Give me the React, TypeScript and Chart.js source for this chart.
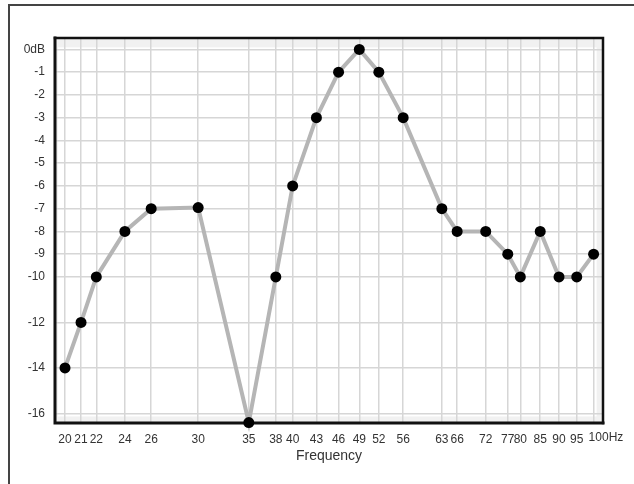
import React, { useEffect, useRef } from "react";
import { Chart, registerables } from "chart.js";

Chart.register(...registerables);

const frequencies = [20, 21, 22, 24, 26, 30, 35, 38, 40, 43, 46, 49, 52, 56, 63, 66, 72, 77, 80, 85, 90, 95, 100];
const levels = [-14, -12, -10, -8, -7, -6.95, -16.4, -10, -6, -3, -1, 0, -1, -3, -7, -8, -8, -9, -10, -8, -10, -10, -9];
const xTicks = [20, 21, 22, 24, 26, 30, 35, 38, 40, 43, 46, 49, 52, 56, 63, 66, 72, 77, 80, 85, 90, 95, 100];
const yTicks = [0, -1, -2, -3, -4, -5, -6, -7, -8, -9, -10, -12, -14, -16];
const lastTickLabel = "100Hz";

const FONT = "'Liberation Sans', Arial, sans-serif";

const framePlugin = {
  id: "framePlugin",
  beforeDraw(chart: any) {
    const { ctx, chartArea, scales } = chart;
    const { left, top, right, bottom } = chartArea;
    ctx.save();
    ctx.fillStyle = "#f1f1f1";
    ctx.fillRect(left, top, right - left, bottom - top);
    const x0 = left + 3;
    const x1 = scales.x.getPixelForValue(100) + 3;
    const y0 = scales.y.getPixelForValue(0) - 2;
    const y1 = scales.y.getPixelForValue(-16) + 3;
    ctx.fillStyle = "#ffffff";
    ctx.fillRect(x0, y0, x1 - x0, y1 - y0);
    ctx.restore();
  },
  beforeDatasetsDraw(chart: any) {
    const { ctx, chartArea } = chart;
    const { left, top, right, bottom } = chartArea;
    ctx.save();
    ctx.strokeStyle = "#111111";
    ctx.lineCap = "square";
    ctx.lineWidth = 3;
    ctx.beginPath();
    ctx.moveTo(left, top);
    ctx.lineTo(left, bottom);
    ctx.lineTo(right, bottom);
    ctx.stroke();
    ctx.lineWidth = 2.5;
    ctx.beginPath();
    ctx.moveTo(left, top);
    ctx.lineTo(right, top);
    ctx.lineTo(right, bottom);
    ctx.stroke();
    ctx.restore();
  },
  afterDraw(chart: any) {
    const { ctx, scales, chartArea } = chart;
    const x = scales.x.getPixelForValue(xTicks[xTicks.length - 1]);
    ctx.save();
    ctx.fillStyle = "#333333";
    ctx.font = `12px ${FONT}`;
    ctx.textAlign = "left";
    ctx.textBaseline = "top";
    ctx.fillText(lastTickLabel, x - 5, chartArea.bottom + 9);
    ctx.restore();
  },
};

export default function App() {
  const canvasRef = useRef<HTMLCanvasElement | null>(null);

  useEffect(() => {
    if (!canvasRef.current) return;
    const chart = new Chart(canvasRef.current, {
      type: "line",
      data: {
        datasets: [
          {
            data: frequencies.map((f, i) => ({ x: f, y: levels[i] })),
            borderColor: "#b5b5b5",
            borderWidth: 4,
            pointBackgroundColor: "#000000",
            pointBorderColor: "#000000",
            pointBorderWidth: 0,
            pointRadius: 5.5,
            pointHoverRadius: 5.5,
            tension: 0,
            clip: false as any,
          },
        ],
      },
      options: {
        animation: false,
        responsive: false,
        maintainAspectRatio: false,
        layout: { padding: { left: 0, top: 38, right: 31, bottom: 19 } },
        plugins: { legend: { display: false }, tooltip: { enabled: false } },
        scales: {
          x: {
            type: "logarithmic",
            min: 19.4,
            max: 102.9,
            afterBuildTicks: (s: any) => {
              s.ticks = xTicks.map((v) => ({ value: v }));
            },
            afterFit: (s: any) => {
              s.height = 42;
            },
            grid: { color: "#d6d6d6", lineWidth: 1.5, drawTicks: false },
            border: { display: false },
            ticks: {
              autoSkip: false,
              maxRotation: 0,
              minRotation: 0,
              padding: 9,
              color: "#333333",
              font: { family: FONT, size: 12 },
              callback: (v: any) => (Number(v) === xTicks[xTicks.length - 1] ? "" : String(v)),
            },
            title: {
              display: true,
              text: "Frequency",
              color: "#333333",
              font: { family: FONT, size: 14 },
              padding: { top: 0, bottom: 0 },
            },
          },
          y: {
            type: "linear",
            min: -16.42,
            max: 0.5,
            afterBuildTicks: (s: any) => {
              s.ticks = yTicks.map((v) => ({ value: v }));
            },
            afterFit: (s: any) => {
              s.width = 55;
            },
            grid: { color: "#d6d6d6", lineWidth: 1.5, drawTicks: false },
            border: { display: false },
            ticks: {
              padding: 10,
              color: "#333333",
              font: { family: FONT, size: 12 },
              callback: (v: any) => (Number(v) === 0 ? "0dB" : String(v)),
            },
          },
        },
      },
      plugins: [framePlugin],
    });
    return () => chart.destroy();
  }, []);

  return (
    <div style={{ position: "fixed", left: 0, top: 0, width: 634, height: 484, background: "#ffffff", overflow: "hidden" }}>
      <div
        style={{
          position: "absolute",
          left: 8,
          top: 4,
          width: 640,
          height: 490,
          borderTop: "2px solid #444444",
          borderLeft: "2px solid #444444",
        }}
      />
      <canvas ref={canvasRef} width={634} height={484} style={{ position: "absolute", left: 0, top: 0, width: 634, height: 484 }} />
    </div>
  );
}
